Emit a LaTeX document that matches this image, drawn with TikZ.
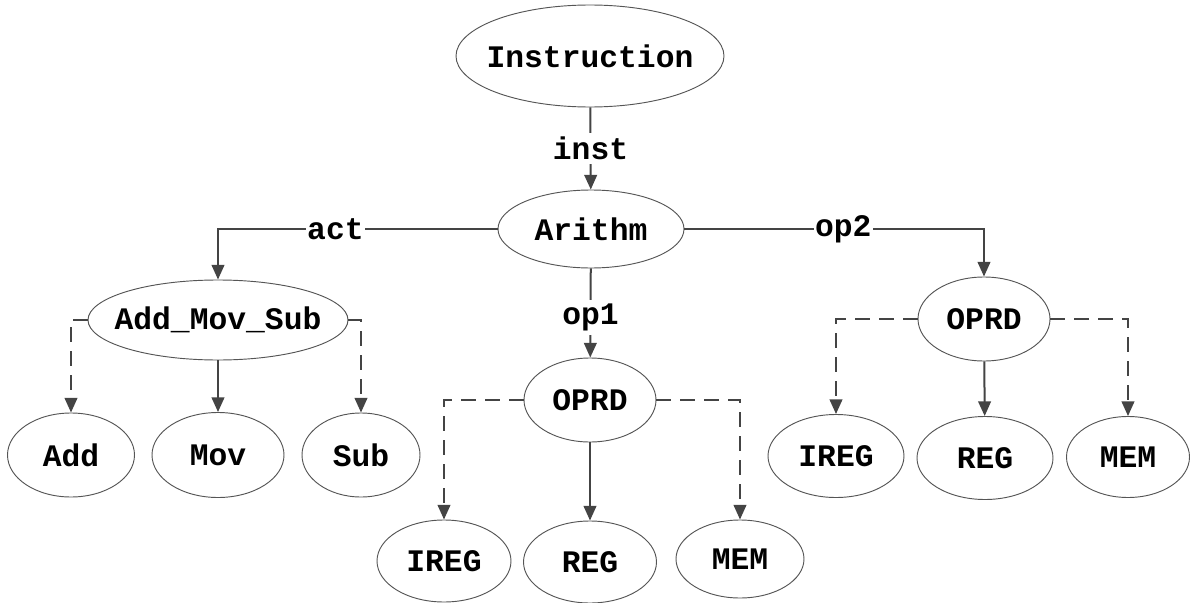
\documentclass[tikz,border=0pt]{standalone}
\usepackage{fontspec}
\setmonofont{Liberation Mono}
\usetikzlibrary{shapes.geometric,arrows.meta}

\definecolor{edgegray}{HTML}{444444}
\definecolor{rimgray}{HTML}{555555}

% zero-width centred box, so that the ellipse keeps its given size
\newcommand{\zw}[1]{\makebox[0pt][c]{#1}}

\tikzset{
  ov/.style 2 args={ellipse, draw=rimgray, line width=0.7pt, fill=white,
    minimum width=#1*0.75pt, minimum height=#2*0.75pt, inner sep=0pt,
    font=\fontsize{23.5}{26}\selectfont\ttfamily\bfseries},
  conn/.style={draw=edgegray, line width=1.5pt,
    -{Triangle[length=11pt,width=9.5pt]}},
  optional/.style={conn, dash pattern=on 11pt off 7pt},
  lbl/.style={fill=white, inner xsep=1pt, inner ysep=3pt,
    font=\fontsize{23.5}{26}\selectfont\ttfamily\bfseries}
}

\begin{document}
\begin{tikzpicture}[x=0.75pt, y=-0.75pt]
  \useasboundingbox (0,0) rectangle (1190,603);

  % root and arithmetic instruction
  \node[ov={268}{102}] (instr) at (590,56) {\zw{Instruction}};
  \node[ov={186}{78}] (arith) at (591,229) {\zw{Arithm}};

  % operation choice
  \node[ov={260}{80}] (ams) at (218,320) {\zw{Add\_Mov\_Sub}};
  \node[ov={127}{84}] (add) at (71,455) {\zw{Add}};
  \node[ov={132}{85}] (mov) at (218,455) {\zw{Mov}};
  \node[ov={118}{84}] (sub) at (361,455) {\zw{Sub}};

  % first operand
  \node[ov={132}{84}] (oprdA) at (590,400) {\zw{OPRD}};
  \node[ov={134}{82}] (iregA) at (444,561) {\zw{IREG}};
  \node[ov={133}{82}] (regA) at (590,562) {\zw{REG}};
  \node[ov={128}{78}] (memA) at (740,559) {\zw{MEM}};

  % second operand
  \node[ov={132}{84}] (oprdB) at (984,319) {\zw{OPRD}};
  \node[ov={136}{83}] (iregB) at (836,456) {\zw{IREG}};
  \node[ov={136}{83}] (regB) at (985,458) {\zw{REG}};
  \node[ov={123}{81}] (memB) at (1128,457) {\zw{MEM}};

  % fields of the instruction
  \draw[conn] (instr) -- node[lbl] {inst} (arith);
  \draw[conn] (arith.west) -| node[lbl, pos=0.29] {act} (ams.north);
  \draw[conn] (arith.east) -| node[lbl, pos=0.265] {op2} (oprdB.north);
  \draw[conn] (arith) -- node[lbl, pos=0.55] {op1} (oprdA);

  % alternatives
  \draw[optional] (ams.west) -| (add.north);
  \draw[conn] (ams) -- (mov);
  \draw[optional] (ams.east) -| (sub.north);

  \draw[optional] (oprdA.west) -| (iregA.north);
  \draw[conn] (oprdA) -- (regA);
  \draw[optional] (oprdA.east) -| (memA.north);

  \draw[optional] (oprdB.west) -| (iregB.north);
  \draw[conn] (oprdB) -- (regB);
  \draw[optional] (oprdB.east) -| (memB.north);
\end{tikzpicture}
\end{document}
